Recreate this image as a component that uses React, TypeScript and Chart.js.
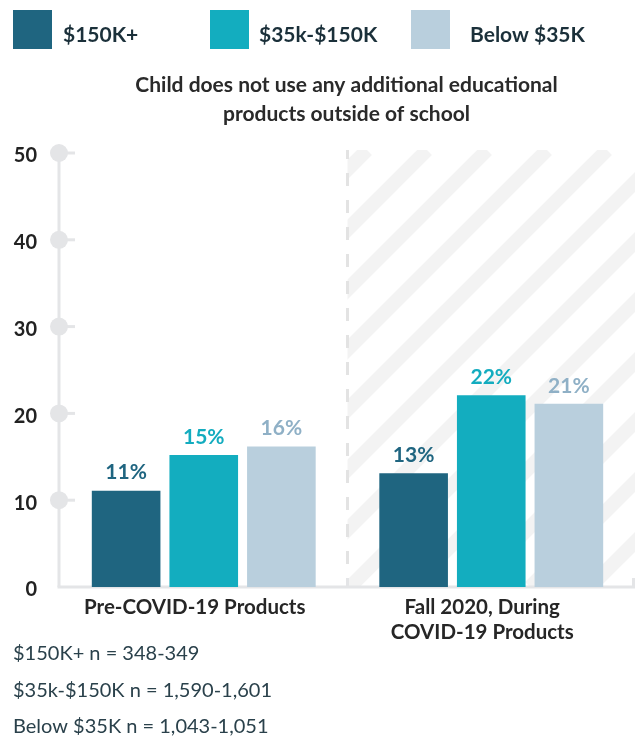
import React, { useEffect, useRef } from "react";
import { Chart, registerables } from "chart.js";

Chart.register(...registerables);

// ---- data ----
const categories: string[][] = [["Pre-COVID-19 Products"], ["Fall 2020, During", "COVID-19 Products"]];
const seriesNames = ["$150K+", "$35k-$150K", "Below $35K"];
const incomeHigh = [11.1, 13.1];
const incomeMid = [15.2, 22.1];
const incomeLow = [16.2, 21.1];
const yTickValues = [0, 10, 20, 30, 40, 50];
const titleLines = ["Child does not use any additional educational", "products outside of school"];
const footnotes = ["$150K+ n = 348-349", "$35k-$150K n = 1,590-1,601", "Below $35K n = 1,043-1,051"];

// ---- styles ----
const FONT = "Lato, 'Liberation Sans', sans-serif";
const barColors = ["#1f6580", "#13adbf", "#b9cfdd"];
const valueLabelColors = ["#1f6580", "#13acbf", "#8fb0c6"];
const axisColor = "#e4e5e7";

const decorPlugin = {
  id: "decor",
  beforeDatasetsDraw(chart: any) {
    const { ctx, chartArea, scales } = chart;
    const xs = scales.x;
    const ys = scales.y;
    const top = chartArea.top - 3;
    const bottom = chartArea.bottom;
    const splitX = (xs.getPixelForValue(0) + xs.getPixelForValue(1)) / 2;
    const right = chartArea.right;

    // hatched region
    ctx.save();
    ctx.beginPath();
    ctx.rect(splitX, top, right - splitX, bottom - top);
    ctx.clip();
    ctx.strokeStyle = "#f3f3f3";
    ctx.lineWidth = 14;
    const h = bottom - top;
    for (let cx = splitX + 19.5 - 60 * 2; cx < right + h + 60; cx += 60) {
      ctx.beginPath();
      ctx.moveTo(cx - h, bottom);
      ctx.lineTo(cx, top);
      ctx.stroke();
    }
    ctx.restore();

    // dashed divider
    ctx.save();
    ctx.beginPath();
    ctx.rect(splitX - 3, top, 6, bottom - top);
    ctx.clip();
    ctx.strokeStyle = "#e3e3e3";
    ctx.lineWidth = 3;
    ctx.setLineDash([13, 14]);
    ctx.beginPath();
    ctx.moveTo(splitX, top - 4);
    ctx.lineTo(splitX, bottom);
    ctx.stroke();
    ctx.restore();

    // axes
    ctx.save();
    ctx.strokeStyle = axisColor;
    ctx.fillStyle = axisColor;
    ctx.lineWidth = 3;
    const axX = chartArea.left - 1;
    ctx.beginPath();
    ctx.moveTo(axX, ys.getPixelForValue(50));
    ctx.lineTo(axX, bottom);
    ctx.stroke();
    ctx.beginPath();
    ctx.moveTo(axX - 1.5, bottom);
    ctx.lineTo(right, bottom);
    ctx.stroke();
    // small end ticks
    [splitX, right - 1.5].forEach((x) => {
      ctx.beginPath();
      ctx.moveTo(x, bottom - 9);
      ctx.lineTo(x, bottom);
      ctx.stroke();
    });
    yTickValues.forEach((v) => {
      if (v === 0) return;
      const y = ys.getPixelForValue(v);
      ctx.beginPath();
      ctx.moveTo(axX, y);
      ctx.lineTo(axX + 16, y);
      ctx.stroke();
      ctx.beginPath();
      ctx.arc(axX, y, 9, 0, Math.PI * 2);
      ctx.fill();
    });
    ctx.restore();
  },
  afterDatasetsDraw(chart: any) {
    const { ctx } = chart;
    ctx.save();
    ctx.font = `bold 21px ${FONT}`;
    ctx.textAlign = "center";
    ctx.textBaseline = "middle";
    chart.data.datasets.forEach((ds: any, di: number) => {
      const meta = chart.getDatasetMeta(di);
      ctx.fillStyle = valueLabelColors[di];
      meta.data.forEach((el: any, i: number) => {
        ctx.fillText(Math.round(ds.data[i]) + "%", el.x, el.y - 18);
      });
    });
    ctx.restore();
  },
  afterDraw(chart: any) {
    const { ctx, chartArea } = chart;
    ctx.save();
    // legend
    const legendSquares = [13, 210, 411];
    const legendText = [63, 259, 470];
    ctx.font = `bold 21px ${FONT}`;
    ctx.textAlign = "left";
    ctx.textBaseline = "alphabetic";
    seriesNames.forEach((name, i) => {
      ctx.fillStyle = barColors[i];
      ctx.fillRect(legendSquares[i], 10, 39, 39);
      ctx.fillStyle = "#1b303a";
      ctx.fillText(name, legendText[i], 42);
    });
    // title
    ctx.fillStyle = "#2a2a2a";
    ctx.textAlign = "center";
    const cx = (chartArea.left + chartArea.right) / 2 - 1;
    titleLines.forEach((line, i) => {
      ctx.fillText(line, cx, 92 + i * 29);
    });
    // footnotes
    ctx.font = `20px ${FONT}`;
    ctx.textAlign = "left";
    ctx.fillStyle = "#2a414b";
    footnotes.forEach((line, i) => {
      ctx.fillText(line, 13, 660 + i * 36.5);
    });
    ctx.restore();
  },
};

export default function App() {
  const ref = useRef<HTMLCanvasElement>(null);
  useEffect(() => {
    if (!ref.current) return;
    const chart = new Chart(ref.current, {
      type: "bar",
      data: {
        labels: categories,
        datasets: [
          { label: seriesNames[0], data: incomeHigh, backgroundColor: barColors[0] },
          { label: seriesNames[1], data: incomeMid, backgroundColor: barColors[1] },
          { label: seriesNames[2], data: incomeLow, backgroundColor: barColors[2] },
        ].map((d) => ({ ...d, barPercentage: 0.884, categoryPercentage: 0.81 })),
      },
      options: {
        animation: false,
        responsive: false,
        devicePixelRatio: 1,
        layout: { padding: { top: 153, right: 2, left: 0, bottom: 0 } },
        plugins: {
          legend: { display: false },
          title: { display: false },
          tooltip: { enabled: false },
        },
        scales: {
          x: {
            grid: { display: false, drawTicks: false },
            border: { display: false },
            ticks: {
              font: { family: FONT, size: 20.5, weight: "bold", lineHeight: 1.22 },
              color: "#262626",
              padding: 8,
              labelOffset: -9,
              maxRotation: 0,
              autoSkip: false,
            },
            afterFit: (s: any) => {
              s.height = 150;
            },
          },
          y: {
            min: 0,
            max: 50,
            grid: { display: false, drawTicks: false },
            border: { display: false },
            ticks: {
              stepSize: 10,
              font: { family: FONT, size: 20, weight: "bold" },
              color: "#222222",
              padding: 23,
              labelOffset: 3,
            },
            afterFit: (s: any) => {
              s.width = 60;
            },
          },
        },
      } as any,
      plugins: [decorPlugin],
    });
    return () => chart.destroy();
  }, []);
  return (
    <div style={{ position: "fixed", left: 0, top: 0, width: 637, height: 737, background: "#fff" }}>
      <canvas ref={ref} width={637} height={737} style={{ width: 637, height: 737, display: "block" }} />
    </div>
  );
}
